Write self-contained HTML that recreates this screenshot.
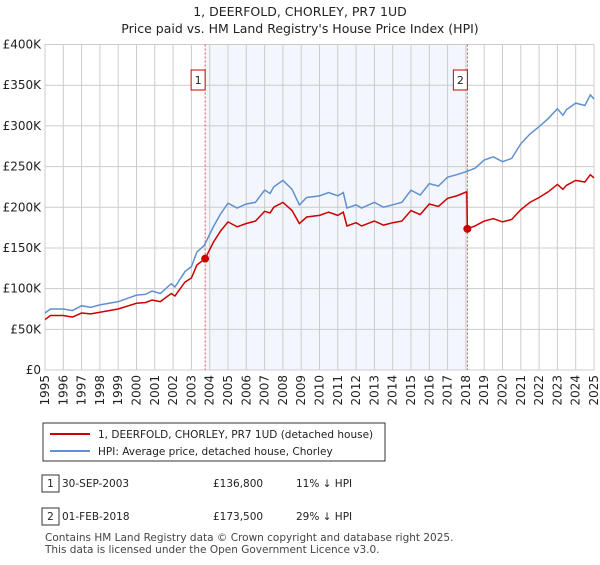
<!DOCTYPE html>
<html><head><meta charset="utf-8"><style>
body{margin:0;background:#fff;font-family:"Liberation Sans","DejaVu Sans",sans-serif;}
svg text{font-family:"DejaVu Sans","Liberation Sans",sans-serif;}
</style></head><body>
<svg id="c" width="600" height="560" xmlns="http://www.w3.org/2000/svg">
<text x="300" y="16" text-anchor="middle" font-size="12.5" fill="#222">1, DEERFOLD, CHORLEY, PR7 1UD</text>
<text x="300" y="33" text-anchor="middle" font-size="12.5" fill="#222">Price paid vs. HM Land Registry's House Price Index (HPI)</text>
<g id="plot"></g>
<g>
<rect x="43" y="423" width="342" height="38" fill="#fff" stroke="#333" stroke-width="1"/>
<line x1="50" y1="434" x2="90" y2="434" stroke="#cc0000" stroke-width="2"/>
<text x="98" y="438" font-size="10.5" fill="#222">1, DEERFOLD, CHORLEY, PR7 1UD (detached house)</text>
<line x1="50" y1="451" x2="90" y2="451" stroke="#6090d0" stroke-width="2"/>
<text x="98" y="455" font-size="10.5" fill="#222">HPI: Average price, detached house, Chorley</text>
</g>
<g font-size="10.5" fill="#222">
<rect x="42" y="475" width="17" height="17" fill="#fff" stroke="#333"/><text x="50.5" y="487" text-anchor="middle">1</text>
<text x="62" y="487">30-SEP-2003</text><text x="213" y="487">£136,800</text><text x="296" y="487">11% ↓ HPI</text>
<rect x="42" y="508" width="17" height="17" fill="#fff" stroke="#333"/><text x="50.5" y="520" text-anchor="middle">2</text>
<text x="62" y="520">01-FEB-2018</text><text x="213" y="520">£173,500</text><text x="296" y="520">29% ↓ HPI</text>
</g>
<text x="45" y="541" font-size="10.5" fill="#444">Contains HM Land Registry data © Crown copyright and database right 2025.</text>
<text x="45" y="553" font-size="10.5" fill="#444">This data is licensed under the Open Government Licence v3.0.</text>
</svg>
<script>
const hpiYears=[1995.0,1995.3,1996.0,1996.5,1997.0,1997.5,1998.0,1999.0,2000.0,2000.5,2000.85,2001.3,2001.9,2002.1,2002.65,2003.0,2003.3,2003.7,2004.2,2004.6,2005.0,2005.5,2006.0,2006.5,2007.0,2007.3,2007.5,2008.0,2008.5,2008.9,2009.3,2010.0,2010.5,2011.0,2011.3,2011.5,2012.0,2012.3,2013.0,2013.5,2014.0,2014.5,2015.0,2015.5,2016.0,2016.5,2017.0,2017.5,2018.05,2018.5,2019.0,2019.5,2020.0,2020.5,2021.0,2021.5,2022.0,2022.5,2023.0,2023.3,2023.5,2024.0,2024.5,2024.8,2025.0];
const hpiValues=[70,75,75,73,79,77,80,84,92,93,97,94,106,102,121,127,145,153,176,192,205,199,204,206,221,217,225,233,222,203,212,214,218,214,218,199,203,199,206,200,203,206,221,215,229,226,237,240,244,248,258,262,256,260,278,290,299,309,321,313,320,328,325,338,333];
const priceYears=[1995.0,1995.3,1996.0,1996.5,1997.0,1997.5,1998.0,1999.0,2000.0,2000.5,2000.85,2001.3,2001.9,2002.1,2002.65,2003.0,2003.3,2003.75,2004.2,2004.6,2005.0,2005.5,2006.0,2006.5,2007.0,2007.3,2007.5,2008.0,2008.5,2008.9,2009.3,2010.0,2010.5,2011.0,2011.3,2011.5,2012.0,2012.3,2013.0,2013.5,2014.0,2014.5,2015.0,2015.5,2016.0,2016.5,2017.0,2017.5,2018.05,2018.08,2018.5,2019.0,2019.5,2020.0,2020.5,2021.0,2021.5,2022.0,2022.5,2023.0,2023.3,2023.5,2024.0,2024.5,2024.8,2025.0];
const priceValues=[62,67,67,65,70,69,71,75,82,83,86,84,94,91,108,113,129,136.8,157,171,182,176,180,183,195,193,200,206,196,180,188,190,194,190,194,177,181,177,183,178,181,183,196,191,204,201,211,214,219,173.5,177,183,186,182,185,197,206,212,219,228,222,227,233,231,240,236];
const saleYears=[2003.75,2018.08];
const saleValues=[136.8,173.5];
const saleLabels=["1","2"];
const yTicks=[0,50,100,150,200,250,300,350,400];
const yTickLabels=["£0","£50K","£100K","£150K","£200K","£250K","£300K","£350K","£400K"];
const xTicks=[1995,1996,1997,1998,1999,2000,2001,2002,2003,2004,2005,2006,2007,2008,2009,2010,2011,2012,2013,2014,2015,2016,2017,2018,2019,2020,2021,2022,2023,2024,2025];

const L=45,R=594,T=44.5,B=370;
const xs=y=>L+(y-1995)/30*(R-L);
const ys=v=>B-v/400*(B-T);
const NS="http://www.w3.org/2000/svg";
const g=document.getElementById('plot');
function mk(t,a){const e=document.createElementNS(NS,t);for(const k in a)e.setAttribute(k,a[k]);g.appendChild(e);return e;}

const shade=mk('rect',{x:xs(saleYears[0]),y:T,width:xs(saleYears[1])-xs(saleYears[0]),height:B-T,fill:'#eef3fc',opacity:0.7});



yTicks.forEach((v,i)=>{
  const l=mk('line',{x1:L,x2:R,y1:ys(v),y2:ys(v),stroke:'#cccccc','stroke-width':1});
  
  
  const t=mk('text',{x:L-4,y:ys(v)+4,'text-anchor':'end','font-size':12,fill:'#222'});
  t.textContent=yTickLabels[i];
  
  
});
xTicks.forEach(y=>{
  const l=mk('line',{x1:xs(y),x2:xs(y),y1:T,y2:B,stroke:'#cccccc','stroke-width':1});
  
  
  const t=mk('text',{x:0,y:0,'text-anchor':'end','font-size':12,fill:'#222',transform:`translate(${xs(y)+4},${B+5}) rotate(-90)`});
  t.textContent=y;
  
  
});
const ax=mk('rect',{x:L,y:T,width:R-L,height:B-T,fill:'none',stroke:'#cccccc'});



saleYears.forEach((y,i)=>{
  const l=mk('line',{x1:xs(y),x2:xs(y),y1:T,y2:B,stroke:'#e05050','stroke-width':1,'stroke-dasharray':'2,2'});
  
  
  const r=mk('rect',{x:xs(y)-14,y:70,width:14,height:20,fill:'#fff',stroke:'#cc0000'});
  
  
  const t=mk('text',{x:xs(y)-7,y:84,'text-anchor':'middle','font-size':11,fill:'#222'});
  t.textContent=saleLabels[i];
  
  
});

const hp=mk('polyline',{points:hpiYears.map((y,i)=>xs(y)+','+ys(hpiValues[i])).join(' '),fill:'none',stroke:'#6090d0','stroke-width':1.5});


const pp=mk('polyline',{points:priceYears.map((y,i)=>xs(y)+','+ys(priceValues[i])).join(' '),fill:'none',stroke:'#cc0000','stroke-width':1.5});


saleYears.forEach((y,i)=>{
  const c=mk('circle',{cx:xs(y),cy:ys(saleValues[i]),r:4,fill:'#cc0000'});
  
  
});
</script>
</body></html>
